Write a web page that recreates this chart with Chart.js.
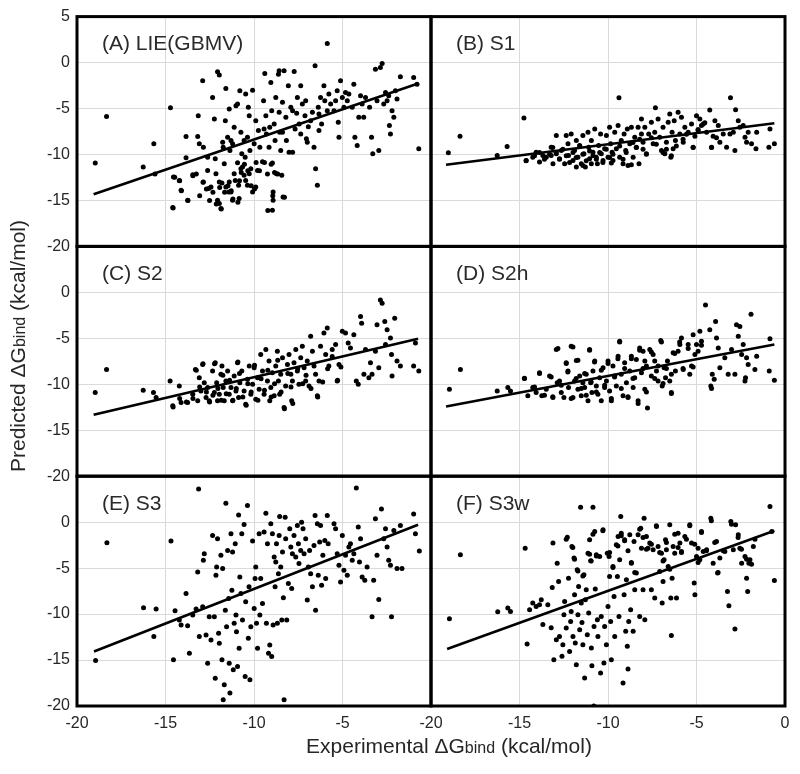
<!DOCTYPE html>
<html>
<head>
<meta charset="utf-8">
<script src="https://cdn.jsdelivr.net/npm/chart.js@4.4.1/dist/chart.umd.min.js"></script>
<style>
  body { margin: 0; background: #fff; }
  #wrap { position: relative; width: 800px; height: 774px; font-family: "Liberation Sans", Arial, sans-serif; color: #262626; }
  #c { position: absolute; left: 0; top: 0; }
  .ttl { position: absolute; font-size: 21px; white-space: nowrap; }
  .ttl small { font-size: 16px; }
  #xt { left: 449px; top: 746px; transform: translate(-50%, -50%); }
  #yt { left: 18px; top: 346px; transform: translate(-50%, -50%) rotate(-90deg); }
</style>
</head>
<body>
<div id="wrap">
  <canvas id="c" width="800" height="774"></canvas>
  <div class="ttl" id="xt">Experimental ΔG<small>bind</small> (kcal/mol)</div>
  <div class="ttl" id="yt">Predicted ΔG<small>bind</small> (kcal/mol)</div>
</div>
<script>
const xTicks = [-20, -15, -10, -5, 0];
const yTicks = [5, 0, -5, -10, -15, -20];
const panelNames = ['(A) LIE(GBMV)', '(B) S1', '(C) S2', '(D) S2h', '(E) S3', '(F) S3w'];

const ptsA = [[-18.97,-10.94],[-18.33,-5.88],[-15.66,-8.84],[-16.26,-11.37],[-15.59,-12.13],[-14.72,-4.91],[-14.59,-15.78],[-14.55,-12.45],[-14.22,-12.82],[-14.12,-13.9],[-13.84,-8.05],[-13.84,-10.36],[-13.75,-14.98],[-13.46,-12.2],[-13.18,-8.05],[-13.15,-5.78],[-13.09,-8.84],[-12.9,-1.99],[-12.86,-9.2],[-12.86,-13.0],[-12.62,-10.29],[-12.62,-11.73],[-12.56,-13.7],[-12.34,-3.79],[-12.24,-6.14],[-12.19,-10.47],[-12.15,-12.1],[-12.06,-1.01],[-11.96,-1.34],[-12.06,-14.98],[-11.96,-15.34],[-11.87,-15.88],[-11.96,-13.0],[-11.77,-8.66],[-11.74,-9.2],[-11.68,-11.0],[-11.62,-6.32],[-11.59,-2.82],[-11.59,-13.54],[-11.49,-8.12],[-11.4,-5.05],[-11.4,-13.0],[-11.3,-14.08],[-11.21,-8.84],[-11.21,-14.98],[-11.12,-7.04],[-11.02,-4.69],[-10.93,-10.9],[-10.93,-4.51],[-10.87,-13.36],[-10.84,-14.8],[-10.8,-3.07],[-10.74,-7.58],[-10.69,-9.93],[-10.65,-11.37],[-10.56,-12.27],[-10.47,-12.82],[-10.47,-3.43],[-10.37,-13.36],[-10.37,-8.12],[-10.32,-4.87],[-10.27,-5.78],[-10.23,-9.57],[-10.18,-11.55],[-10.08,-3.0],[-10.08,-14.08],[-9.99,-8.84],[-9.9,-13.54],[-9.9,-6.32],[-9.8,-11.73],[-9.75,-7.4],[-9.67,-9.2],[-9.52,-10.79],[-9.46,-4.15],[-9.39,-1.19],[-9.33,-5.78],[-9.3,-7.76],[-9.24,-12.13],[-9.15,-9.2],[-9.11,-7.04],[-9.05,-2.17],[-9.0,-5.23],[-8.96,-16.06],[-8.96,-10.94],[-8.92,-14.08],[-8.92,-14.98],[-8.86,-6.68],[-8.81,-8.48],[-8.77,-3.79],[-8.73,-12.1],[-8.62,-1.26],[-8.58,-5.41],[-8.58,-0.9],[-8.55,-7.58],[-8.49,-9.57],[-8.43,-12.27],[-8.39,-4.33],[-8.36,-14.62],[-8.3,-0.9],[-8.2,-5.96],[-8.17,-8.48],[-8.06,-2.53],[-8.02,-9.75],[-7.92,-4.87],[-7.82,-9.75],[-7.73,-0.97],[-7.68,-7.22],[-7.59,-5.52],[-7.55,-3.79],[-7.45,-6.68],[-7.36,-2.53],[-7.36,-7.76],[-7.27,-4.51],[-7.12,-5.78],[-7.08,-4.15],[-7.04,-8.3],[-6.99,-8.66],[-6.93,-6.97],[-6.8,-6.32],[-6.7,-5.41],[-6.61,-9.2],[-6.55,-0.36],[-6.52,-11.55],[-6.42,-13.36],[-6.37,-4.87],[-6.33,-7.4],[-6.24,-3.79],[-6.18,-6.68],[-6.05,-2.53],[-6.0,-4.15],[-5.86,2.06],[-5.86,-5.23],[-5.77,-3.43],[-5.67,-4.51],[-5.48,-5.23],[-5.3,-3.07],[-5.24,-6.5],[-5.2,-8.12],[-5.11,-1.99],[-5.01,-3.79],[-4.92,-4.87],[-4.83,-3.25],[-4.73,-4.15],[-4.36,-2.35],[-4.3,-8.12],[-4.17,-9.02],[-4.08,-5.96],[-3.98,-3.61],[-3.89,-4.51],[-3.8,-5.96],[-3.47,-4.87],[-3.36,-8.12],[-3.29,-9.93],[-3.14,-0.72],[-3.05,-4.15],[-2.95,-9.57],[-2.86,-0.54],[-2.76,-0.11],[-2.67,-4.51],[-2.57,-3.25],[-2.48,-4.15],[-2.35,-6.86],[-2.29,-7.76],[-2.2,-5.23],[-2.1,-5.96],[-2.01,-3.07],[-1.92,-3.97],[-1.73,-1.55],[-0.98,-1.62],[-0.79,-2.35],[-0.69,-9.39],[-12.43,-13.54],[-11.81,-13.1],[-11.43,-14.08],[-11.12,-12.1],[-11.06,-12.82],[-10.74,-11.55],[-10.5,-10.29],[-10.27,-12.1],[-11.36,-9.57],[-11.3,-8.48],[-10.56,-8.48],[-7.82,-5.23],[-6.33,-5.6],[-5.39,-4.15],[-4.64,-3.43],[-4.45,-4.87],[-3.7,-3.79],[-2.39,-3.61],[-9.43,-7.22],[-8.39,-7.58],
  [-14.57,-15.81],[-14.48,-12.49],[-14.2,-12.85],[-14.1,-13.94],[-13.73,-15.02],[-13.45,-12.31],[-13.26,-12.13],[-13.07,-14.48],[-12.88,-13.03],[-12.69,-13.76],[-12.51,-15.02],[-12.32,-14.12],[-12.13,-15.38],[-11.94,-13.58],[-11.85,-15.92],[-11.66,-14.12],[-11.47,-13.39],[-11.29,-13.94],[-11.19,-14.84],[-10.91,-15.2],[-10.82,-12.85],[-10.72,-11.95],[-10.54,-11.05],[-10.35,-11.77],[-10.16,-13.39],[-9.97,-13.76],[-9.88,-10.87],[-9.69,-11.77],[-9.41,-10.87],[-9.22,-16.1],[-9.03,-11.05],[-8.94,-14.48],[-8.84,-11.95],[-8.66,-12.13],[-8.28,-14.66]];
const fitA = [[-19.06,-14.33],[-0.73,-2.27]];

const ptsB = [[-19.02,-9.82],[-18.36,-8.01],[-15.7,-9.13],[-14.75,-6.03],[-16.26,-10.1],[-9.38,-3.83],[-7.32,-4.91],[-3.08,-3.83],[-2.79,-5.13],[-4.25,-5.16],[-0.85,-7.22],[-0.6,-8.84],[-0.91,-9.2],[-1.64,-9.39],[-14.62,-10.65],[-14.25,-10.29],[-14.06,-9.75],[-13.87,-10.83],[-13.68,-10.11],[-13.49,-10.29],[-13.21,-9.21],[-13.11,-11.01],[-12.92,-7.94],[-12.92,-9.93],[-12.74,-10.47],[-12.64,-9.57],[-12.45,-11.01],[-12.36,-7.94],[-12.26,-8.84],[-12.23,-10.11],[-12.08,-7.76],[-11.98,-10.65],[-11.89,-9.57],[-11.79,-8.48],[-11.7,-10.29],[-11.6,-9.02],[-11.51,-11.01],[-11.42,-7.94],[-11.36,-9.93],[-11.28,-11.37],[-11.13,-7.58],[-11.09,-9.2],[-11.04,-10.47],[-10.94,-8.48],[-10.85,-9.75],[-10.75,-7.22],[-10.66,-10.29],[-10.6,-11.01],[-10.53,-9.02],[-10.42,-7.76],[-10.38,-9.93],[-10.28,-10.65],[-10.19,-9.39],[-10.09,-7.94],[-10.0,-10.29],[-9.91,-7.04],[-9.85,-8.84],[-9.77,-9.75],[-9.72,-10.65],[-9.62,-7.58],[-9.53,-9.39],[-9.43,-6.86],[-9.34,-10.29],[-9.25,-8.48],[-9.15,-11.01],[-9.09,-7.76],[-9.0,-9.57],[-8.91,-7.22],[-8.87,-11.19],[-8.77,-8.84],[-8.68,-7.04],[-8.58,-10.29],[-8.49,-8.12],[-8.4,-9.2],[-8.3,-7.04],[-8.25,-11.01],[-8.11,-7.76],[-8.02,-8.66],[-7.92,-7.04],[-7.83,-9.93],[-7.7,-7.76],[-7.55,-6.5],[-7.45,-8.84],[-7.36,-7.58],[-7.17,-6.14],[-7.08,-8.12],[-6.98,-9.57],[-6.89,-7.04],[-6.79,-9.93],[-6.7,-8.66],[-6.6,-6.5],[-6.51,-5.6],[-6.45,-10.29],[-6.38,-7.58],[-6.32,-9.39],[-6.26,-6.32],[-6.19,-8.48],[-6.04,-5.41],[-5.94,-7.76],[-5.85,-5.96],[-5.75,-8.66],[-5.66,-7.04],[-5.47,-7.58],[-5.28,-6.68],[-5.19,-9.2],[-5.09,-8.01],[-5.0,-5.78],[-4.91,-7.4],[-4.81,-6.14],[-4.72,-6.86],[-4.62,-6.68],[-4.43,-7.58],[-4.15,-9.2],[-4.06,-8.01],[-3.96,-6.32],[-3.77,-6.86],[-3.68,-8.66],[-3.49,-7.76],[-3.3,-9.2],[-3.11,-7.76],[-2.92,-7.58],[-2.83,-9.57],[-2.64,-6.32],[-2.55,-7.04],[-2.36,-6.86],[-2.26,-8.12],[-2.17,-8.66],[-2.08,-7.58],[-1.89,-8.84],[-1.6,-7.58],[-8.11,-6.14],[-11.42,-11.19],[-10.94,-11.01],[-9.81,-10.94],[-8.68,-11.12],[-11.79,-11.37],[-13.21,-10.11],
  [-14.63,-10.69],[-14.15,-10.15],[-13.87,-9.79],[-13.59,-10.51],[-13.3,-9.97],[-13.12,-9.25],[-12.93,-9.79],[-12.74,-10.51],[-12.55,-9.43],[-12.36,-10.15],[-12.17,-10.87],[-11.98,-9.79],[-11.8,-10.33],[-11.6,-9.07],[-11.42,-9.97],[-11.23,-10.69],[-11.04,-9.61],[-10.85,-10.15],[-10.66,-10.51],[-10.47,-9.79],[-10.29,-10.87],[-10.1,-9.43],[-9.91,-10.33],[-9.72,-9.97],[-9.34,-9.07],[-9.15,-10.51],[-8.97,-9.79],[-8.59,-8.71],[-8.4,-9.25],[-8.21,-8.35],[-8.02,-9.43],[-7.83,-9.97],[-7.55,-8.17],[-7.27,-8.89],[-6.89,-9.79],[-6.7,-9.43],[-6.42,-10.15],[-6.14,-9.07],[-5.76,-8.35],[-5.57,-7.81],[-5.19,-9.25],[-4.91,-7.27],[-4.53,-6.54],[-4.15,-9.25],[-3.87,-8.17]];
const fitB = [[-19.15,-11.12],[-0.6,-6.61]];

const ptsC = [[-18.97,-10.9],[-18.33,-8.38],[-16.26,-10.65],[-15.68,-10.9],[-15.53,-11.44],[-14.74,-9.64],[-14.59,-12.34],[-14.22,-10.18],[-14.12,-11.98],[-13.75,-11.98],[-13.46,-11.08],[-13.31,-8.38],[-13.18,-11.8],[-13.09,-9.28],[-13.0,-10.72],[-12.9,-7.84],[-12.81,-9.82],[-12.71,-11.44],[-12.62,-10.36],[-12.53,-11.8],[-12.34,-8.56],[-12.24,-10.9],[-12.19,-7.66],[-12.11,-9.82],[-12.06,-11.8],[-11.96,-11.08],[-11.87,-8.92],[-11.81,-8.02],[-11.74,-10.36],[-11.68,-11.8],[-11.59,-9.64],[-11.49,-8.56],[-11.4,-11.08],[-11.3,-10.36],[-11.21,-11.8],[-11.12,-9.1],[-11.02,-10.72],[-10.93,-7.66],[-10.87,-11.44],[-10.8,-9.82],[-10.69,-8.56],[-10.56,-10.72],[-10.47,-12.16],[-10.37,-9.46],[-10.27,-8.02],[-10.18,-11.08],[-10.08,-10.0],[-9.99,-8.2],[-9.9,-11.62],[-9.8,-9.28],[-9.71,-10.54],[-9.62,-6.76],[-9.52,-8.56],[-9.43,-11.08],[-9.33,-6.22],[-9.24,-9.64],[-9.15,-7.48],[-9.11,-11.8],[-9.05,-10.36],[-8.96,-8.74],[-8.86,-11.26],[-8.77,-8.02],[-8.68,-6.4],[-8.62,-9.64],[-8.55,-11.08],[-8.49,-8.92],[-8.39,-7.12],[-8.3,-12.52],[-8.21,-10.18],[-8.11,-7.84],[-8.02,-6.76],[-7.92,-8.92],[-7.87,-11.8],[-7.83,-9.64],[-7.74,-7.66],[-7.64,-6.22],[-7.55,-8.56],[-7.46,-10.0],[-7.36,-7.12],[-7.27,-5.86],[-7.17,-8.2],[-7.08,-9.64],[-6.99,-7.48],[-6.89,-10.18],[-6.8,-4.78],[-6.7,-6.4],[-6.61,-8.02],[-6.52,-8.92],[-6.42,-11.26],[-6.33,-9.64],[-6.24,-5.86],[-6.05,-4.42],[-5.95,-6.76],[-5.86,-3.88],[-5.77,-8.02],[-5.58,-6.22],[-5.39,-5.68],[-5.3,-9.64],[-5.2,-7.84],[-5.01,-4.24],[-4.83,-4.42],[-4.68,-5.5],[-4.55,-6.04],[-4.36,-4.6],[-4.22,-9.64],[-4.11,-10.0],[-3.98,-2.63],[-3.92,-3.35],[-3.79,-8.92],[-3.7,-6.22],[-3.42,-7.66],[-3.33,-8.92],[-3.14,-6.4],[-3.05,-3.53],[-2.95,-8.2],[-2.86,-0.83],[-2.76,-1.19],[-2.61,-3.17],[-2.48,-4.06],[-2.29,-4.96],[-2.23,-6.76],[-2.2,-9.1],[-2.05,-2.81],[-1.92,-7.48],[-1.73,-8.02],[-0.98,-8.02],[-0.88,-5.5],[-0.69,-8.56],[-2.57,-5.68],[-3.51,-9.28],[-5.58,-6.97],
  [-14.57,-12.47],[-14.2,-11.56],[-13.82,-11.92],[-13.45,-11.56],[-13.26,-8.48],[-13.07,-10.29],[-12.88,-7.76],[-12.69,-10.84],[-12.51,-11.92],[-12.32,-11.2],[-12.23,-7.76],[-12.04,-10.47],[-11.85,-11.74],[-11.76,-9.02],[-11.57,-11.02],[-11.38,-9.57],[-11.19,-11.74],[-11.0,-10.47],[-10.91,-7.57],[-10.82,-8.84],[-10.63,-11.38],[-10.44,-12.28],[-10.35,-9.93],[-10.16,-10.84],[-9.97,-7.94],[-9.78,-11.74],[-9.6,-9.39],[-9.41,-10.65],[-9.22,-8.48],[-9.03,-11.38],[-8.84,-9.93],[-8.66,-7.39],[-8.47,-10.84],[-8.28,-12.65],[-8.09,-8.84],[-7.91,-10.29],[-7.81,-12.1],[-7.53,-8.3],[-7.25,-9.93],[-7.06,-9.02],[-6.78,-10.47],[-6.4,-11.38],[-6.12,-9.75],[-5.84,-8.3],[-5.28,-9.57],[-5.09,-8.12]];
const fitC = [[-19.06,-13.31],[-0.73,-5.04]];

const ptsD = [[-18.96,-10.54],[-18.34,-8.38],[-16.26,-10.72],[-15.66,-10.36],[-15.51,-10.72],[-14.72,-9.35],[-14.53,-11.26],[-14.25,-10.36],[-14.06,-10.9],[-13.87,-8.74],[-13.74,-11.26],[-13.49,-10.54],[-13.3,-9.1],[-13.11,-11.44],[-12.92,-6.22],[-12.87,-9.82],[-12.74,-9.64],[-12.64,-10.9],[-12.49,-11.44],[-12.36,-7.66],[-12.26,-8.56],[-12.23,-10.36],[-12.08,-5.86],[-11.98,-11.44],[-11.89,-9.64],[-11.79,-7.41],[-11.7,-10.54],[-11.6,-9.1],[-11.51,-11.26],[-11.42,-9.82],[-11.32,-10.36],[-11.23,-8.92],[-11.13,-11.8],[-11.04,-6.22],[-10.98,-9.82],[-10.91,-10.9],[-10.85,-8.56],[-10.75,-7.48],[-10.66,-10.18],[-10.57,-11.08],[-10.47,-9.28],[-10.38,-11.8],[-10.28,-8.2],[-10.19,-10.36],[-10.09,-9.64],[-10.0,-7.48],[-9.91,-10.72],[-9.81,-11.8],[-9.72,-8.02],[-9.62,-9.1],[-9.53,-10.18],[-9.43,-6.94],[-9.34,-5.32],[-9.25,-8.92],[-9.15,-11.26],[-9.06,-7.66],[-8.96,-9.82],[-8.87,-11.44],[-8.77,-8.56],[-8.68,-6.94],[-8.58,-10.36],[-8.49,-9.28],[-8.4,-7.3],[-8.3,-11.8],[-8.21,-6.04],[-8.11,-8.74],[-8.02,-6.4],[-7.92,-10.54],[-7.83,-8.02],[-7.77,-12.59],[-7.64,-6.22],[-7.55,-9.1],[-7.45,-6.76],[-7.36,-7.48],[-7.26,-8.56],[-7.17,-9.64],[-7.02,-5.25],[-6.94,-10.18],[-6.83,-8.2],[-6.75,-9.28],[-6.64,-7.48],[-6.51,-9.64],[-6.42,-10.9],[-6.32,-6.58],[-6.19,-8.56],[-6.04,-6.4],[-5.94,-5.68],[-5.85,-4.96],[-5.75,-8.38],[-5.47,-5.68],[-5.38,-8.92],[-5.28,-8.02],[-5.19,-4.6],[-5.09,-6.76],[-5.0,-5.68],[-4.91,-6.4],[-4.81,-4.24],[-4.72,-5.32],[-4.49,-1.37],[-4.25,-4.06],[-4.19,-10.18],[-4.11,-8.92],[-4.0,-9.46],[-3.92,-3.17],[-3.87,-4.96],[-3.77,-6.04],[-3.68,-8.2],[-3.4,-7.12],[-3.21,-8.92],[-3.02,-6.22],[-2.83,-8.92],[-2.74,-3.53],[-2.64,-4.78],[-2.55,-3.71],[-2.45,-6.76],[-2.36,-5.68],[-2.26,-9.64],[-2.23,-9.28],[-2.17,-7.12],[-2.08,-7.84],[-1.92,-2.37],[-1.7,-8.38],[-1.6,-6.94],[-0.85,-5.04],[-0.89,-8.56],[-0.6,-9.57],[-7.92,-7.48],[-7.17,-8.02],[-6.42,-8.92],
  [-14.72,-9.38],[-14.15,-10.29],[-13.87,-8.84],[-13.59,-11.19],[-13.21,-9.2],[-13.12,-11.37],[-12.83,-6.12],[-12.64,-10.1],[-12.36,-7.75],[-12.27,-8.66],[-12.08,-11.55],[-11.98,-5.94],[-11.8,-9.38],[-11.7,-7.39],[-11.51,-10.47],[-11.32,-8.84],[-11.23,-11.19],[-11.04,-6.3],[-10.95,-9.74],[-10.76,-7.57],[-10.66,-10.83],[-10.38,-8.47],[-10.19,-10.1],[-10.0,-7.75],[-9.81,-11.55],[-9.63,-9.2],[-9.44,-7.21],[-9.34,-5.39],[-9.25,-10.47],[-9.06,-8.29],[-8.87,-11.37],[-8.68,-7.21],[-8.59,-9.38],[-8.3,-12.1],[-8.21,-6.3],[-8.02,-8.29],[-7.83,-10.83],[-7.55,-6.48],[-7.36,-9.38],[-6.98,-5.39],[-6.89,-9.92],[-6.7,-8.29],[-6.42,-11.01],[-6.23,-6.66],[-5.95,-5.39],[-5.76,-8.29],[-5.47,-6.12],[-5.19,-8.11],[-4.72,-5.76],[-4.15,-10.47]];
const fitD = [[-19.15,-12.41],[-0.6,-5.68]];

const ptsE = [[-18.95,-15.05],[-18.31,-2.24],[-16.24,-9.31],[-15.66,-12.45],[-15.53,-9.46],[-14.69,-2.06],[-14.55,-14.98],[-14.46,-9.64],[-14.22,-10.65],[-14.12,-11.19],[-13.84,-7.76],[-13.75,-11.26],[-13.65,-14.26],[-13.46,-10.11],[-13.27,-9.46],[-13.18,-5.42],[-13.13,3.61],[-13.09,-12.45],[-12.9,-9.21],[-12.86,-4.15],[-12.81,-3.43],[-12.71,-12.27],[-12.62,-15.34],[-12.53,-10.29],[-12.43,-12.82],[-12.34,-1.44],[-12.24,-10.29],[-12.19,-16.97],[-12.15,-5.78],[-12.11,-4.87],[-12.06,-1.81],[-12.0,-12.09],[-11.96,-13.18],[-11.87,-3.61],[-11.81,-14.98],[-11.77,-5.05],[-11.74,-19.31],[-11.68,-17.69],[-11.62,-9.57],[-11.59,2.06],[-11.55,-11.37],[-11.49,-3.07],[-11.43,-8.3],[-11.4,-15.34],[-11.36,-18.59],[-11.3,-1.26],[-11.25,-7.4],[-11.21,-3.25],[-11.17,-16.06],[-11.12,-11.01],[-11.06,-2.35],[-11.02,-10.11],[-10.99,-11.91],[-10.93,-15.7],[-10.87,0.79],[-10.84,-13.72],[-10.8,-5.96],[-10.74,-7.76],[-10.69,-1.26],[-10.65,-10.65],[-10.56,-0.25],[-10.5,-16.79],[-10.47,-8.66],[-10.37,1.81],[-10.32,-12.64],[-10.28,-7.04],[-10.23,-17.15],[-10.18,-11.37],[-10.08,-2.06],[-9.99,-9.39],[-9.94,-6.14],[-9.9,-4.87],[-9.86,-11.01],[-9.8,-13.72],[-9.71,-1.26],[-9.67,-10.11],[-9.62,-6.14],[-9.52,-8.84],[-9.43,-1.08],[-9.33,0.97],[-9.3,-11.01],[-9.24,-2.35],[-9.18,-14.26],[-9.11,-13.36],[-9.05,-0.18],[-9.0,-14.62],[-8.96,-1.26],[-8.92,-11.19],[-8.86,-3.79],[-8.81,-7.04],[-8.77,-4.33],[-8.73,-2.35],[-8.68,-11.01],[-8.62,-5.6],[-8.58,-1.44],[-8.55,0.61],[-8.49,-4.87],[-8.43,-10.65],[-8.39,-3.25],[-8.34,-8.23],[-8.3,-19.31],[-8.24,0.54],[-8.21,-1.81],[-8.15,-10.65],[-8.06,-6.68],[-7.98,-0.72],[-7.92,-2.71],[-7.87,-7.22],[-7.83,-3.43],[-7.74,-1.44],[-7.64,-3.79],[-7.55,-0.36],[-7.49,-2.35],[-7.46,-4.51],[-7.36,-3.07],[-7.31,0.0],[-7.23,-0.72],[-7.17,-3.43],[-7.08,-1.81],[-6.99,-8.48],[-6.93,-4.87],[-6.86,-3.07],[-6.8,-5.6],[-6.7,-7.04],[-6.61,-2.53],[-6.55,0.72],[-6.52,-9.57],[-6.42,-0.18],[-6.37,-5.78],[-6.29,-2.17],[-6.24,-0.36],[-6.18,-6.86],[-6.11,-3.61],[-6.0,-1.99],[-5.95,-6.14],[-5.86,0.72],[-5.81,-2.35],[-5.48,-0.18],[-5.39,-0.72],[-5.3,-3.43],[-5.2,-4.69],[-5.11,-6.5],[-5.01,-1.44],[-4.92,-5.23],[-4.83,-3.61],[-4.73,-5.78],[-4.64,-2.71],[-4.55,-2.35],[-4.45,-4.15],[-4.36,-3.43],[-4.22,3.72],[-4.11,-0.54],[-4.04,-4.33],[-3.98,-1.81],[-3.89,-5.96],[-3.74,-6.32],[-3.61,-4.87],[-3.33,-10.29],[-3.24,-6.32],[-3.14,0.36],[-3.05,-3.61],[-2.95,-8.41],[-2.8,1.44],[-2.67,-1.81],[-2.57,-0.72],[-2.48,-2.71],[-2.39,-4.15],[-2.29,-4.69],[-2.23,-10.29],[-2.1,-0.9],[-1.92,-5.05],[-1.73,-0.36],[-1.64,-5.05],[-0.98,0.9],[-0.88,-1.26],[-0.66,-3.14]];
const fitE = [[-19.04,-14.08],[-0.73,-0.29]];

const ptsF = [[-18.96,-10.51],[-18.34,-3.55],[-16.23,-9.75],[-15.66,-9.35],[-15.51,-9.71],[-14.68,-2.83],[-14.57,-13.26],[-14.43,-9.53],[-14.25,-8.8],[-14.06,-9.17],[-13.87,-8.99],[-13.77,-8.44],[-13.68,-11.12],[-13.4,-8.99],[-13.21,-11.49],[-13.15,-7.1],[-13.11,-2.28],[-13.06,-14.96],[-12.92,-12.79],[-12.87,-4.46],[-12.79,-6.45],[-12.74,-12.43],[-12.6,-14.6],[-12.55,-13.33],[-12.49,-10.07],[-12.45,-8.62],[-12.36,-11.52],[-12.3,-1.63],[-12.23,-6.09],[-12.17,-14.06],[-12.11,-10.8],[-12.08,-9.71],[-12.04,-2.64],[-11.98,-12.43],[-11.92,-3.91],[-11.89,-7.9],[-11.85,-13.15],[-11.79,-15.51],[-11.74,-5.18],[-11.7,-10.07],[-11.66,-6.99],[-11.6,-11.7],[-11.55,1.63],[-11.51,-8.8],[-11.47,-10.91],[-11.42,-13.33],[-11.36,-5.72],[-11.32,-16.96],[-11.28,-8.44],[-11.23,-7.36],[-11.17,-12.25],[-11.13,-3.37],[-11.09,-9.89],[-11.04,-1.92],[-10.98,-4.2],[-10.94,-13.7],[-10.91,-15.62],[-10.85,1.63],[-10.79,-11.34],[-10.75,-1.01],[-10.72,-7.28],[-10.66,-3.55],[-10.6,-10.62],[-10.57,-12.43],[-10.47,-3.73],[-10.42,-16.41],[-10.38,-10.25],[-10.28,-0.83],[-10.23,-15.33],[-10.19,-11.34],[-10.09,-13.33],[-10.04,-3.37],[-10.0,-9.17],[-9.94,-3.73],[-9.91,-5.91],[-9.85,-10.8],[-9.81,-14.96],[-9.72,-4.82],[-9.66,-8.08],[-9.62,-12.43],[-9.53,-2.46],[-9.47,-5.91],[-9.43,-1.56],[-9.38,-10.25],[-9.34,-4.09],[-9.28,0.62],[-9.25,-1.2],[-9.15,-17.5],[-9.09,-7.9],[-9.06,-1.92],[-9.0,-11.88],[-8.96,-6.27],[-8.91,-13.51],[-8.87,-15.98],[-8.83,-10.8],[-8.77,-1.38],[-8.72,-9.53],[-8.68,-4.46],[-8.58,-11.88],[-8.53,-2.1],[-8.49,-7.36],[-8.4,-5.54],[-8.3,-1.38],[-8.21,-10.25],[-8.15,-0.65],[-8.11,-2.83],[-8.02,-7.36],[-7.96,0.43],[-7.92,-10.62],[-7.83,-1.56],[-7.74,-2.83],[-7.64,-2.28],[-7.55,-7.36],[-7.45,-3.01],[-7.36,-8.26],[-7.26,-0.47],[-7.17,-2.64],[-7.08,-5.36],[-6.98,-3.37],[-6.94,-8.8],[-6.89,-6.45],[-6.83,-4.09],[-6.75,-1.92],[-6.7,-3.01],[-6.6,-4.82],[-6.51,-0.29],[-6.45,-8.26],[-6.42,-12.32],[-6.38,-6.09],[-6.32,-2.64],[-6.23,-3.37],[-6.13,-8.26],[-6.04,-1.2],[-5.94,-2.28],[-5.85,-3.19],[-5.66,-1.56],[-5.38,-0.29],[-5.28,-2.28],[-5.13,-6.63],[-5.09,-7.9],[-5.0,-3.73],[-4.91,-2.83],[-4.81,-4.09],[-4.72,-1.01],[-4.62,-3.19],[-4.43,-3.01],[-4.19,0.43],[-4.06,-4.46],[-3.87,-2.1],[-3.81,-5.54],[-3.68,-3.91],[-3.4,-3.19],[-3.25,-7.54],[-3.17,-9.09],[-3.06,0.07],[-2.92,-3.01],[-2.83,-11.63],[-2.79,-0.29],[-2.64,-1.38],[-2.55,-2.83],[-2.45,-4.46],[-2.26,-3.73],[-2.17,-6.09],[-2.11,-7.54],[-2.04,-4.46],[-1.98,-4.09],[-1.79,-2.64],[-0.85,1.7],[-0.75,-1.01],[-0.6,-6.34],[-10.8,-20.0],
  [-12.36,-1.85],[-11.99,-2.76],[-11.89,-4.03],[-11.7,-5.31],[-11.42,-5.85],[-11.04,-3.49],[-10.95,-4.22],[-10.85,-1.31],[-10.66,-3.67],[-10.29,-0.94],[-9.91,-3.3],[-9.72,-4.94],[-9.44,-2.58],[-9.25,-1.49],[-9.06,-2.03],[-8.87,-3.12],[-8.68,-4.4],[-8.49,-5.49],[-8.21,-0.76],[-8.02,-1.67],[-7.83,-2.94],[-7.55,-2.4],[-7.27,-0.4],[-7.08,-3.3],[-6.89,-4.22],[-6.7,-2.22],[-6.51,-5.12],[-6.23,-1.31],[-6.04,-2.76],[-5.85,-3.3],[-5.57,-1.85],[-5.38,-0.4],[-5.1,-2.4],[-4.91,-4.4],[-4.72,-1.12],[-4.44,-3.12],[-4.16,0.15],[-3.97,-2.22],[-3.78,-5.49],[-3.49,-3.12],[-3.02,-0.22],[-2.65,-1.67],[-2.46,-2.94],[-2.17,-4.03],[-1.89,-4.58],[-1.7,-1.85]];
const fitF = [[-19.09,-13.8],[-0.6,-0.94]];

const panels = [
  { pts: ptsA, fit: fitA, x: 'xL', y: 'yTop' },
  { pts: ptsB, fit: fitB, x: 'xR', y: 'yTop' },
  { pts: ptsC, fit: fitC, x: 'xL', y: 'yMid' },
  { pts: ptsD, fit: fitD, x: 'xR', y: 'yMid' },
  { pts: ptsE, fit: fitE, x: 'xL', y: 'yBot' },
  { pts: ptsF, fit: fitF, x: 'xR', y: 'yBot' }
];

const fonte = '"Liberation Sans", Arial, sans-serif';
const datasets = [];
panels.forEach(p => {
  datasets.push({
    type: 'scatter',
    data: p.pts.map(v => ({ x: v[0], y: v[1] })),
    xAxisID: p.x, yAxisID: p.y,
    backgroundColor: '#000', borderWidth: 0, pointRadius: 2.5
  });
  datasets.push({
    type: 'scatter',
    data: p.fit.map(v => ({ x: v[0], y: v[1] })),
    xAxisID: p.x, yAxisID: p.y,
    showLine: true, borderColor: '#000', borderWidth: 2.6, pointRadius: 0
  });
});

function eixoY(peso, mostra5) {
  return {
    type: 'linear', position: 'left', stack: 'linhas', stackWeight: 1, weight: peso,
    min: -20, max: 5,
    afterBuildTicks: s => { s.ticks = yTicks.map(v => ({ value: v })); },
    afterFit: s => { s.width = 77; },
    grid: { color: '#dadada', lineWidth: 1, drawTicks: false },
    border: { display: false },
    ticks: {
      autoSkip: false, padding: 7, color: '#262626',
      font: { family: fonte, size: 16 },
      callback: v => (v === 5 && !mostra5) ? '' : String(v)
    }
  };
}

function eixoX(peso, mostra0) {
  return {
    type: 'linear', position: 'bottom', stack: 'colunas', stackWeight: 1, weight: peso,
    min: -20, max: 0,
    afterBuildTicks: s => { s.ticks = xTicks.map(v => ({ value: v })); },
    afterFit: s => { s.height = 34; },
    grid: { color: '#dadada', lineWidth: 1, drawTicks: false },
    border: { display: false },
    ticks: {
      autoSkip: false, padding: 8, color: '#262626', maxRotation: 0,
      font: { family: fonte, size: 16 },
      callback: v => (v === 0 && !mostra0) ? '' : String(v)
    }
  };
}

// molduras e rotulos dos paineis
const paineis = {
  id: 'paineis',
  afterDatasetsDraw(chart) {
    const ctx = chart.ctx;
    ctx.save();
    panels.forEach((p, i) => {
      const xs = chart.scales[p.x], ys = chart.scales[p.y];
      ctx.fillStyle = '#2a2a2a';
      ctx.font = '21px ' + fonte;
      ctx.textBaseline = 'middle';
      ctx.fillText(panelNames[i], xs.left + 25, ys.top + 28);
    });
    ctx.strokeStyle = '#000';
    ctx.lineWidth = 3;
    panels.forEach(p => {
      const xs = chart.scales[p.x], ys = chart.scales[p.y];
      ctx.strokeRect(xs.left, ys.top, xs.right - xs.left, ys.bottom - ys.top);
    });
    ctx.restore();
  }
};

new Chart(document.getElementById('c'), {
  type: 'scatter',
  data: { datasets: datasets },
  options: {
    responsive: false,
    animation: false,
    devicePixelRatio: 1,
    layout: { padding: { top: 15, right: 15, bottom: 34, left: 0 } },
    plugins: { legend: { display: false }, tooltip: { enabled: false } },
    scales: {
      yBot: eixoY(1, false),
      yMid: eixoY(2, false),
      yTop: eixoY(3, true),
      xL: eixoX(1, false),
      xR: eixoX(2, true)
    }
  },
  plugins: [paineis]
});
</script>
</body>
</html>
